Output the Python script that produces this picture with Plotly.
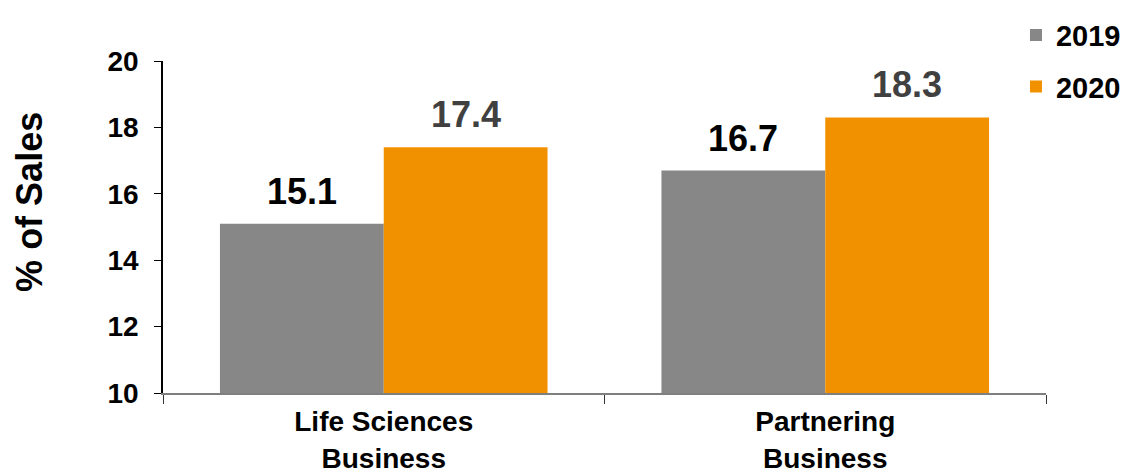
import plotly.graph_objects as go

categories = ["Life Sciences<br>Business", "Partnering<br>Business"]
years = ["2019", "2020"]
values_2019 = [15.1, 16.7]
values_2020 = [17.4, 18.3]
y_ticks = [10, 12, 14, 16, 18, 20]

colors = {"2019": "#878787", "2020": "#F29100"}
label_colors = {"2019": "#000000", "2020": "#404040"}
series = {"2019": values_2019, "2020": values_2020}

FONT = "Liberation Sans, Arial, sans-serif"

fig = go.Figure()
for i, yr in enumerate(years):
    fig.add_trace(go.Bar(
        x=categories, y=series[yr], name=f"<b>{yr}</b>",
        marker=dict(color=colors[yr], line=dict(width=0)),
        legendgroup=yr,
    ))

# value labels above each bar
plot_w = 1122 - 163 - 76
bargap = 0.258
bar_w = plot_w / len(categories) * (1 - bargap) / 2
annotations = []
for i, yr in enumerate(years):
    shift = (i - 0.5) * bar_w
    for cat, v in zip(categories, series[yr]):
        annotations.append(dict(
            x=cat, y=v, xref="x", yref="y",
            text=f"<b>{v:.1f}</b>", showarrow=False,
            xshift=shift, yshift=10, yanchor="bottom",
            font=dict(family=FONT, size=36, color=label_colors[yr]),
        ))

# rotated y-axis title
annotations.append(dict(
    x=-0.152, y=0.575, xref="paper", yref="paper",
    text="<b>% of Sales</b>", showarrow=False, textangle=-90,
    xanchor="center", yanchor="middle",
    font=dict(family=FONT, size=36, color="black"),
))

fig.update_layout(
    width=1122, height=474,
    margin=dict(l=163, r=76, t=61, b=81, autoexpand=False),
    paper_bgcolor="white", plot_bgcolor="white",
    barmode="group", bargap=bargap, bargroupgap=0,
    font=dict(family=FONT, size=28, color="black"),
    annotations=annotations,
    showlegend=True,
    legend=dict(
        x=0.966, y=1.155, xanchor="left", yanchor="top",
        font=dict(family=FONT, size=29, color="black"),
        tracegroupgap=11, bgcolor="rgba(0,0,0,0)",
        itemclick=False,
    ),
    xaxis=dict(
        automargin=False,
        showline=True, linecolor="#7f7f7f", linewidth=1.5,
        ticks="outside", tickson="boundaries", ticklen=9,
        tickcolor="#333333", tickwidth=1, ticklabelstandoff=3,
        tickfont=dict(family=FONT, size=28, color="black"),
        showgrid=False, zeroline=False,
    ),
    yaxis=dict(
        automargin=False,
        range=[10, 20], tickvals=y_ticks,
        ticktext=[f"<b>{t}</b>" for t in y_ticks],
        showline=True, linecolor="black", linewidth=1.5,
        ticks="outside", ticklen=7, tickcolor="black",
        ticklabelstandoff=10,
        tickfont=dict(family=FONT, size=28, color="black"),
        showgrid=False, zeroline=False,
    ),
)
fig.update_xaxes(ticktext=[f"<b>{c}</b>" for c in categories], tickvals=categories)

fig.write_html("out.html")
